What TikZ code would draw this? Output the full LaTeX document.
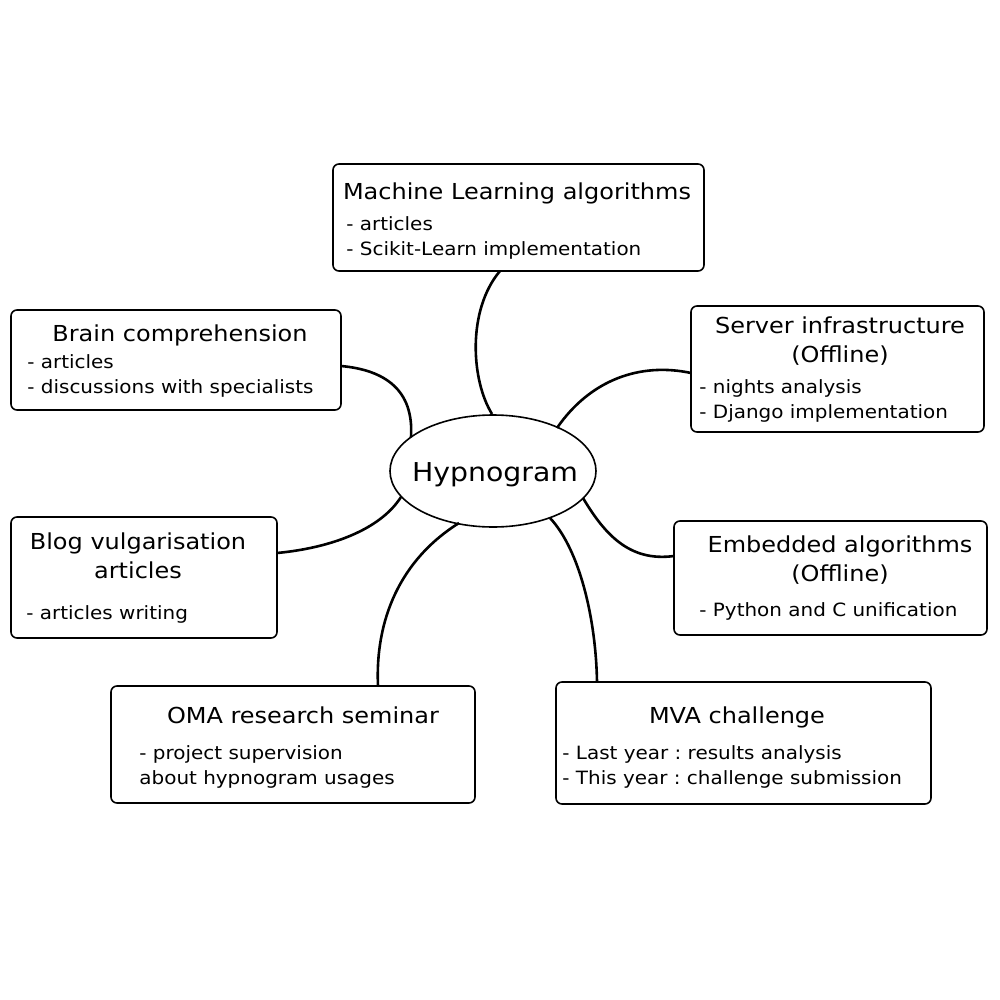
\documentclass[tikz,border=0pt]{standalone}
\usepackage{fontspec}
\usetikzlibrary{shapes.geometric}
\setmainfont{DejaVu Sans}[FakeStretch=1.09]
\frenchspacing
\begin{document}
\begin{tikzpicture}[x=0.5pt,y=-0.5pt,
  ttl/.style={inner sep=0pt, anchor=base, font=\fontsize{11}{13}\selectfont},
  bdy/.style={inner sep=0pt, anchor=base west, font=\fontsize{9.15}{11}\selectfont},
  boxline/.style={line width=0.8pt, rounded corners=3pt},
  link/.style={line width=1.3pt}]
\useasboundingbox (0,0) rectangle (1000,1000);
% boxes
\draw[boxline] (333,164) rectangle (704,271);
\coordinate (mlB) at (500,271);
\draw[boxline] (11,310) rectangle (341,410);
\coordinate (brR) at (341,366);
\draw[boxline] (691,306) rectangle (984,432);
\coordinate (svL) at (691,373);
\draw[boxline] (674,521) rectangle (987,635);
\coordinate (emL) at (674,556);
\draw[boxline] (11,517) rectangle (277,638);
\coordinate (blR) at (277,553);
\draw[boxline] (111,686) rectangle (475,803);
\coordinate (omT) at (378,686);
\draw[boxline] (556,682) rectangle (931,804);
\coordinate (mvT) at (597,682);
% center
\node[draw, line width=0.8pt, ellipse, minimum width=103pt, minimum height=56pt, inner sep=0pt] (hyp) at (493,471) {};
\node[inner sep=0pt, anchor=base, font=\fontsize{13}{15}\selectfont] (hypt) at (495,481) {Hypnogram};
% texts
\node[ttl] (mlt) at (517,199) {Machine Learning algorithms};
\node[bdy] (ml1) at (346,230.5) {- articles};
\node[bdy] (ml2) at (346,255.5) {- Scikit-Learn implementation};
\node[ttl] (brt) at (180,341) {Brain comprehension};
\node[bdy] (br1) at (27,368.5) {- articles};
\node[bdy] (br2) at (27,393.5) {- discussions with specialists};
\node[ttl] (svt) at (840,333) {Server infrastructure};
\node[ttl] (svt2) at (840,362) {(Offline)};
\node[bdy] (sv1) at (699,393.5) {- nights analysis};
\node[bdy] (sv2) at (699,418.5) {- Django implementation};
\node[ttl] (emt) at (840,552) {Embedded algorithms};
\node[ttl] (emt2) at (840,581) {(Offline)};
\node[bdy] (em1) at (699,616.5) {- Python and C unification};
\node[ttl] (blt) at (138,549) {Blog vulgarisation};
\node[ttl] (blt2) at (138,578) {articles};
\node[bdy] (bl1) at (26,619.5) {- articles writing};
\node[ttl] (omt) at (303,723) {OMA research seminar};
\node[bdy] (om1) at (139,759.5) {- project supervision};
\node[bdy] (om2) at (139,784.5) {about hypnogram usages};
\node[ttl] (mvt) at (737,723) {MVA challenge};
\node[bdy] (mv1) at (562,759.5) {- Last year : results analysis};
\node[bdy] (mv2) at (562,784.5) {- This year : challenge submission};
% connectors
\coordinate (h1) at (492,414);
\coordinate (h2) at (411,437);
\coordinate (h3) at (557,428);
\coordinate (h4) at (583,498);
\coordinate (h5) at (401,497);
\coordinate (h6) at (459,523);
\coordinate (h7) at (550,518);
\draw[link] (h1) .. controls (471,380) and (467,310) .. (mlB);
\draw[link] (h2) .. controls (414,390) and (385,370) .. (brR);
\draw[link] (h3) .. controls (590,380) and (640,362) .. (svL);
\draw[link] (h4) .. controls (605,535) and (630,562) .. (emL);
\draw[link] (h5) .. controls (380,530) and (330,548) .. (blR);
\draw[link] (h6) .. controls (400,560) and (375,620) .. (omT);
\draw[link] (h7) .. controls (580,550) and (596,620) .. (mvT);
\end{tikzpicture}
\end{document}
